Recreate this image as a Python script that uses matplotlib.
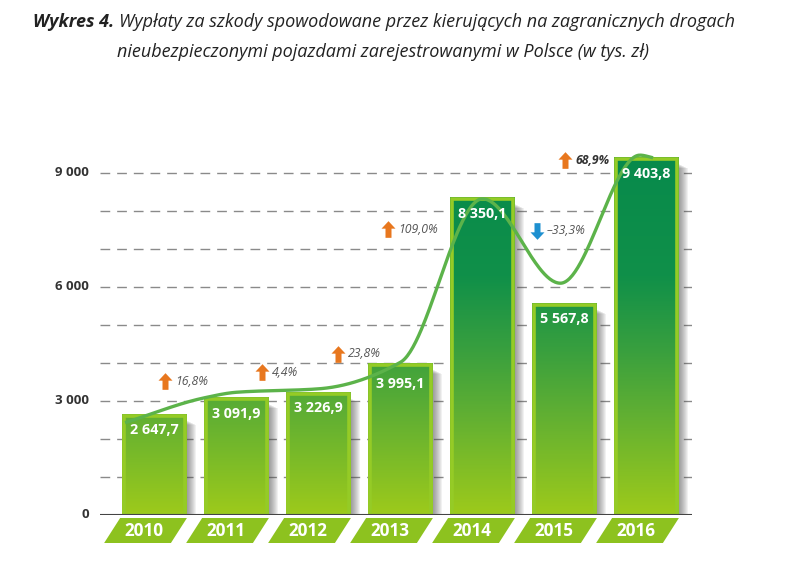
import numpy as np
import matplotlib
matplotlib.use("Agg")
import matplotlib.pyplot as plt
from matplotlib.patches import Rectangle, Polygon
from matplotlib.colors import LinearSegmentedColormap
from matplotlib.path import Path

# ---------------- data ----------------
years = ["2010", "2011", "2012", "2013", "2014", "2015", "2016"]
values = [2647.7, 3091.9, 3226.9, 3995.1, 8350.1, 5567.8, 9403.8]
value_labels = ["2 647,7", "3 091,9", "3 226,9", "3 995,1", "8 350,1", "5 567,8", "9 403,8"]
change_labels = ["16,8%", "4,4%", "23,8%", "109,0%", "–33,3%", "68,9%"]
change_up = [True, True, True, True, False, True]
yticks = [0, 3000, 6000, 9000]
ytick_labels = ["0", "3 000", "6 000", "9 000"]
grid_levels = [1000, 2000, 3000, 4000, 5000, 6000, 7000, 8000, 9000]
# decorative trend curve key points (x in bar-index units, y in tys. zł)
trend_x = [-0.36, 0.6, 1.0, 2.0, 3.0, 4.0, 4.95, 5.92, 6.08]
trend_y = [2430, 3080, 3230, 3320, 4020, 8320, 6100, 9470, 9400]

# ---------------- layout ----------------
change_pos = [(0.128, 3526), (1.311, 3763), (2.238, 4237), (2.848, 7526), (4.665, 7474), (5.006, 9342)]
change_bold = [False, False, False, False, False, True]

W, H = 786, 575
fig = plt.figure(figsize=(W / 100, H / 100), dpi=100)
ax = fig.add_axes([100 / W, 1 - 515 / H, (692 - 100) / W, (515 - 135) / H])
ax.set_xlim(-0.665, 6.555)
ax.set_ylim(0, 10000)
ax.axis("off")

FONT = "Open Sans"
PX = 10000 / 380  # data units per pixel (y)
PXX = 1 / 82      # index units per pixel (x)

# grid
for g in grid_levels:
    ax.axhline(g, color="#8a8a8a", lw=1.0, ls=(0, (7, 5)), zorder=1)
ax.axhline(0, color="#444444", lw=1.5, zorder=6)

cmap = LinearSegmentedColormap.from_list(
    "grn",
    [(0.0, "#9dca1b"), (0.27, "#62b032"), (0.45, "#3aa03e"), (0.66, "#109049"), (1.0, "#078a4c")],
)

bw = 0.79
slant = 0.195
for i, v in enumerate(values):
    x0, x1 = i - bw / 2, i + bw / 2
    # soft shadow to the right
    for k in range(1, 10):
        dx = k * PXX
        ax.add_patch(Rectangle((x0 + dx, 0), bw, v - 6 * PX - k * 0.5 * PX, facecolor="#4a4a4a",
                               edgecolor="none", alpha=0.075, zorder=2))
    # gradient body
    grad = np.linspace(0, v, 256).reshape(-1, 1)
    ax.imshow(grad, extent=[x0, x1, 0, v], origin="lower", aspect="auto",
              cmap=cmap, vmin=0, vmax=9500, zorder=3)
    ax.add_patch(Rectangle((x0 + 1.5 * PXX, 0), bw - 3 * PXX, v - 1.5 * PX, facecolor="none",
                           edgecolor="#95cb26", lw=2.6, zorder=4))
    # value label
    ax.annotate(value_labels[i], (i, v), xytext=(0, -16 * 0.72 if i != 3 else -21 * 0.72),
                textcoords="offset points", ha="center", va="center", color="white",
                fontsize=10.3, fontweight="bold", family=FONT, zorder=8)
    # year box
    yb0, yb1 = -3 * PX, -28 * PX
    ax.add_patch(Polygon([(x0 - 2 * PXX, yb0), (x1, yb0), (x1 - slant, yb1), (x0 - 2 * PXX - slant, yb1)],
                         closed=True, facecolor="#8dc21f", edgecolor="none",
                         clip_on=False, zorder=5))
    ax.text(i - 0.13, (yb0 + yb1) / 2 - 0.5 * PX, years[i], ha="center", va="center", color="white",
            fontsize=12.3, fontweight="bold", family=FONT, clip_on=False, zorder=6)

ax.set_xlim(-0.665, 6.555)
ax.set_ylim(0, 10000)

# trend curve (monotone cubic Hermite through key points)
tx = np.array(trend_x, float)
ty = np.array(trend_y, float)
h = np.diff(tx)
d = np.diff(ty) / h
m = np.zeros_like(ty)
for k in range(1, len(tx) - 1):
    if d[k - 1] * d[k] > 0:
        w1 = 2 * h[k] + h[k - 1]
        w2 = h[k] + 2 * h[k - 1]
        m[k] = (w1 + w2) / (w1 / d[k - 1] + w2 / d[k])
m[0] = d[0]
m[-1] = d[-1]
xs, ys = [], []
for k in range(len(tx) - 1):
    t = np.linspace(0, 1, 60)
    h00 = 2 * t**3 - 3 * t**2 + 1
    h10 = t**3 - 2 * t**2 + t
    h01 = -2 * t**3 + 3 * t**2
    h11 = t**3 - t**2
    xs.append(tx[k] + t * h[k])
    ys.append(h00 * ty[k] + h10 * h[k] * m[k] + h01 * ty[k + 1] + h11 * h[k] * m[k + 1])
ax.plot(np.concatenate(xs), np.concatenate(ys), color="#5cb34a", lw=2.4,
        solid_capstyle="butt", zorder=7)

# y tick labels
for t, lab in zip(yticks, ytick_labels):
    ax.text(-0.80, t, lab, ha="right", va="center", fontsize=9.5, fontweight="bold",
            color="#333333", family=FONT, clip_on=False)

# change annotations
up_arrow = Path([(-0.18, -0.5), (0.18, -0.5), (0.18, 0.05), (0.42, 0.05), (0, 0.5),
                 (-0.42, 0.05), (-0.18, 0.05), (-0.18, -0.5)])
down_arrow = Path([(x, -y) for x, y in up_arrow.vertices])
for (px, py), lab, up, b in zip(change_pos, change_labels, change_up, change_bold):
    ax.plot(px, py, marker=up_arrow if up else down_arrow, markersize=12,
            color="#e8771e" if up else "#1e90d0", markeredgewidth=0, zorder=9, clip_on=False)
    ax.text(px + 10 * PXX, py, lab, ha="left", va="center", fontsize=8.8, style="italic",
            fontweight="bold" if b else "normal",
            color="#333333" if b else "#555555", family=FONT, zorder=9)

# title
t_bold = fig.text(33 / W, 1 - 22 / H, "Wykres 4.", ha="left", va="center", fontsize=13,
                  fontweight="bold", style="italic", color="#222222", family=FONT)
fig.canvas.draw()
bb = t_bold.get_window_extent()
fig.text((bb.x1 + 5) / W, 1 - 22 / H,
         "Wypłaty za szkody spowodowane przez kierujących na zagranicznych drogach",
         ha="left", va="center", fontsize=13, style="italic", color="#222222", family=FONT)
fig.text(383 / W, 1 - 52 / H,
         "nieubezpieczonymi pojazdami zarejestrowanymi w Polsce (w tys. zł)",
         ha="center", va="center", fontsize=13, style="italic", color="#222222", family=FONT)

fig.savefig("out.png", dpi=100)
